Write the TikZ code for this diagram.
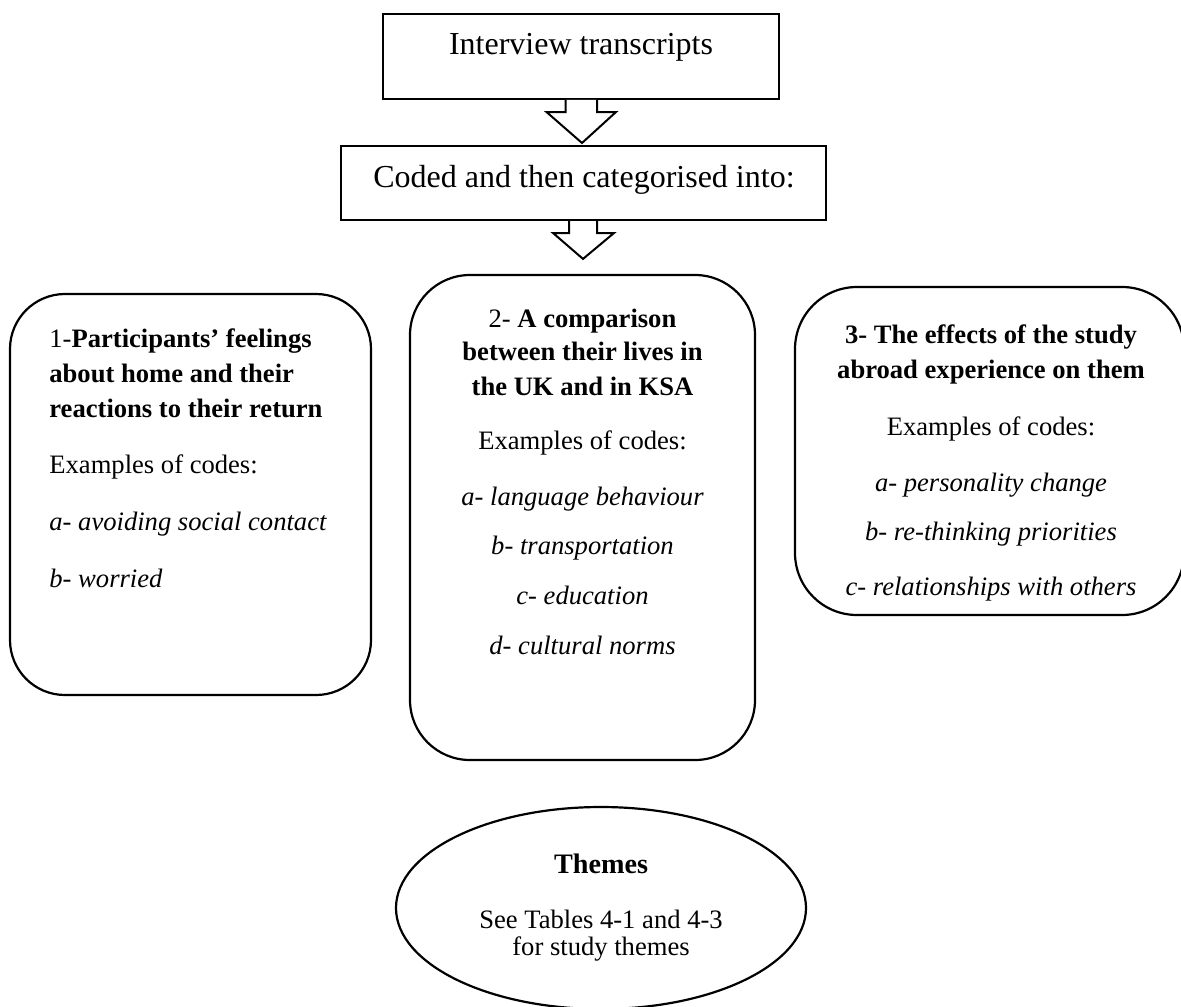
\documentclass[tikz,border=0pt]{standalone}
\usepackage{fontspec}
\setmainfont{Liberation Serif}
\usetikzlibrary{calc,shapes.geometric}
\begin{document}
\begin{tikzpicture}[x=0.5pt,y=-0.5pt,
  box/.style={draw,line width=1pt,inner sep=0,fill=none},
  rbox/.style={box,line width=1.1pt},
  blk/.style={draw,line width=1pt,fill=white,line join=miter},
  big/.style={inner sep=0,anchor=base,font=\fontsize{16}{19}\selectfont},
  txt/.style={inner sep=0,anchor=base,font=\fontsize{13.3}{17.5}\selectfont},
  txtl/.style={txt,anchor=base west}]
\useasboundingbox (0,0) rectangle (1181,1006);
% boxes
\node[box,minimum width=198pt,minimum height=42.5pt] (top) at (581,56.5) {};
\node[box,minimum width=242.5pt,minimum height=37pt] (coded) at (583.5,183) {};
\node[rbox,rounded corners=27.5pt,minimum width=180.5pt,minimum height=200.5pt] (c1) at (190.5,494.5) {};
\node[rbox,rounded corners=30pt,minimum width=172.5pt,minimum height=242.5pt] (c2) at (582.5,517.5) {};
\node[rbox,rounded corners=31pt,minimum width=194.5pt,minimum height=164pt] (c3) at (989.5,451) {};
\node[draw,line width=1.1pt,ellipse,inner sep=0,minimum width=205pt,minimum height=101pt] (th) at (601,908) {};
% block arrows
\draw[blk] ($(top.south)+(-15.5,0)$) -- ($(top.south)+(-15.5,12)$) -- ($(top.south)+(-34.5,12)$)
  -- ($(coded.north)+(-1.5,-2)$) -- ($(top.south)+(35,12)$) -- ($(top.south)+(16,12)$) -- ($(top.south)+(16,0)$);
\draw[blk] ($(coded.south)+(-14.5,0)$) -- ($(coded.south)+(-14.5,12)$) -- ($(coded.south)+(-30.5,12)$)
  -- ($(c2.north)+(0.5,-15)$) -- ($(coded.south)+(30.5,12)$) -- ($(coded.south)+(13.5,12)$) -- ($(coded.south)+(13.5,0)$);
% texts
\node[big] (t1) at (581,55) {Interview transcripts};
\node[big] (t2) at (584,187) {Coded and then categorised into:};
% box 1
\node[txtl] (a1) at (49,347) {1-\textbf{Participants’ feelings}};
\node[txtl] (a2) at (49,382) {\textbf{about home and their}};
\node[txtl] (a3) at (49,417) {\textbf{reactions to their return}};
\node[txtl] (a4) at (49,473) {Examples of codes:};
\node[txtl] (a5) at (49,530) {\textit{a- avoiding social contact}};
\node[txtl] (a6) at (49,587) {\textit{b- worried}};
% box 2
\node[txt] (b1) at (582.5,327) {2- \textbf{A comparison}};
\node[txt] (b2) at (582.5,360) {\textbf{between their lives in}};
\node[txt] (b3) at (582.5,395) {\textbf{the UK and in KSA}};
\node[txt] (b4) at (582.5,449) {Examples of codes:};
\node[txt] (b5) at (582.5,505) {\textit{a- language behaviour}};
\node[txt] (b6) at (582.5,554) {\textit{b- transportation}};
\node[txt] (b7) at (582.5,604) {\textit{c- education}};
\node[txt] (b8) at (582.5,654) {\textit{d- cultural norms}};
% box 3
\node[txt] (d1) at (991,343) {\textbf{3- The effects of the study}};
\node[txt] (d2) at (991,378) {\textbf{abroad experience on them}};
\node[txt] (d3) at (991,435) {Examples of codes:};
\node[txt] (d4) at (991,491) {\textit{a- personality change}};
\node[txt] (d5) at (991,540) {\textit{b- re-thinking priorities}};
\node[txt] (d6) at (991,595) {\textit{c- relationships with others}};
% ellipse
\node[txt,font=\fontsize{14.1}{17}\selectfont\bfseries] (e1) at (601,873) {Themes};
\node[txt] (e2) at (601,928) {See Tables 4-1 and 4-3};
\node[txt] (e3) at (601,955) {for study themes};
\end{tikzpicture}
\end{document}
